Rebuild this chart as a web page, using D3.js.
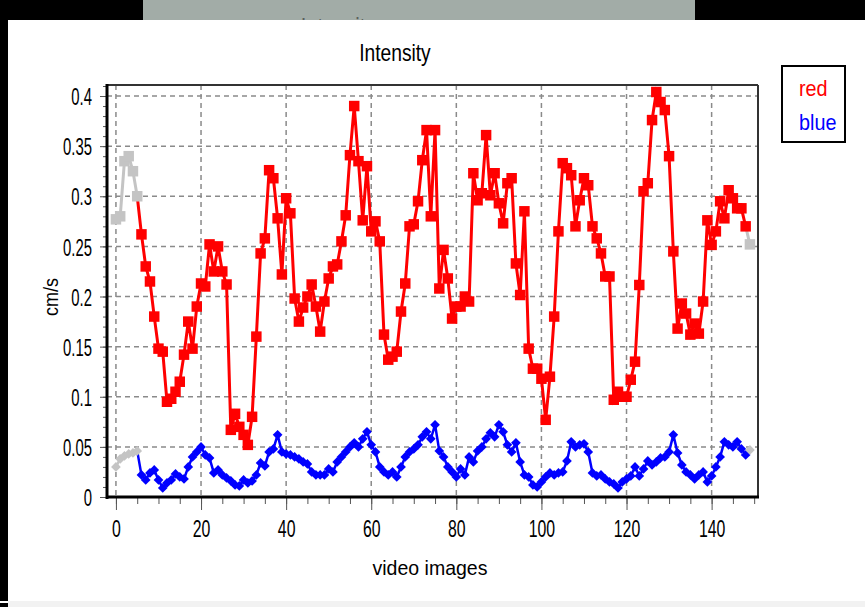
<!DOCTYPE html>
<html>
<head>
<meta charset="utf-8">
<script src="https://cdn.jsdelivr.net/npm/d3@7/dist/d3.min.js"></script>
<style>
  html, body { margin: 0; padding: 0; background: #000; }
  svg { display: block; font-family: "Liberation Sans", Arial, sans-serif; }
</style>
</head>
<body>
<div id="chart"></div>
<script>
// frames 0-5 and 149 are shown grey, frames 6-148 in colour
var redHead = [0.277, 0.28, 0.335, 0.34, 0.325, 0.30];
var redMain = [
  0.262, 0.23, 0.215, 0.18, 0.148, 0.145, 0.095, 0.098, 0.105, 0.115,
  0.142, 0.175, 0.148, 0.19, 0.213, 0.21, 0.252, 0.225, 0.25, 0.225,
  0.212, 0.067, 0.083, 0.07, 0.062, 0.052, 0.08, 0.16, 0.243, 0.258,
  0.326, 0.318, 0.278, 0.222, 0.298, 0.283, 0.198, 0.175, 0.189, 0.2,
  0.212, 0.19, 0.165, 0.195, 0.218, 0.23, 0.232, 0.255, 0.281, 0.341,
  0.39, 0.335, 0.276, 0.33, 0.265, 0.275, 0.255, 0.162, 0.137, 0.14,
  0.145, 0.185, 0.213, 0.27, 0.272, 0.295, 0.336, 0.366, 0.28, 0.366,
  0.208, 0.2465, 0.218, 0.178, 0.19, 0.19, 0.2, 0.195, 0.323, 0.296,
  0.303, 0.361, 0.301, 0.323, 0.293, 0.273, 0.313, 0.318, 0.233, 0.2015,
  0.285, 0.148, 0.128, 0.128, 0.118, 0.077, 0.12, 0.18, 0.265, 0.333,
  0.328, 0.321, 0.27, 0.296, 0.318, 0.311, 0.27, 0.258, 0.243, 0.22,
  0.22, 0.097, 0.105, 0.1, 0.1, 0.117, 0.135, 0.2115, 0.305, 0.313,
  0.376, 0.404, 0.394, 0.386, 0.34, 0.245, 0.168, 0.193, 0.183, 0.162,
  0.173, 0.163, 0.195, 0.276, 0.2515, 0.265, 0.295, 0.278, 0.306, 0.298,
  0.288, 0.288, 0.27
];
var redTail = [0.252];

var blueHead = [0.03, 0.038, 0.041, 0.043, 0.044, 0.046];
var blueMain = [
  0.022, 0.017, 0.024, 0.027, 0.017, 0.009, 0.014, 0.017, 0.023, 0.02,
  0.018, 0.03, 0.04, 0.045, 0.05, 0.042, 0.039, 0.024, 0.027, 0.022,
  0.019, 0.016, 0.012, 0.011, 0.017, 0.014, 0.016, 0.022, 0.034, 0.031,
  0.045, 0.048, 0.062, 0.045, 0.043, 0.042, 0.04, 0.038, 0.035, 0.033,
  0.025, 0.022, 0.022, 0.022, 0.028, 0.025, 0.035, 0.04, 0.045, 0.05,
  0.054, 0.05, 0.058, 0.065, 0.052, 0.045, 0.03, 0.025, 0.022, 0.025,
  0.02, 0.03, 0.04, 0.045, 0.048, 0.052, 0.06, 0.065, 0.058, 0.072,
  0.046, 0.04, 0.03, 0.025, 0.02, 0.028, 0.022, 0.04, 0.035, 0.046,
  0.05, 0.058, 0.064, 0.06, 0.072, 0.065, 0.052, 0.045, 0.054, 0.035,
  0.022, 0.02, 0.012, 0.01, 0.015, 0.02, 0.024, 0.022, 0.024, 0.025,
  0.036, 0.055, 0.05, 0.052, 0.053, 0.045, 0.024, 0.021, 0.022, 0.018,
  0.015, 0.013, 0.009, 0.015, 0.018, 0.021, 0.03, 0.021, 0.028, 0.036,
  0.032, 0.035, 0.039, 0.04, 0.045, 0.062, 0.044, 0.032, 0.025, 0.022,
  0.018, 0.022, 0.025, 0.015, 0.021, 0.03, 0.04, 0.055, 0.052, 0.05,
  0.055, 0.048, 0.042
];
var blueTail = [0.047];

var xTicks = [0, 20, 40, 60, 80, 100, 120, 140];
var yTicks = [0, 0.05, 0.1, 0.15, 0.2, 0.25, 0.3, 0.35, 0.4];
var yTickLabels = ["0", "0.05", "0.1", "0.15", "0.2", "0.25", "0.3", "0.35", "0.4"];
var legendNames = ["red", "blue"];

var W = 865, H = 607;
var plotL = 107, plotR = 758, plotT = 85, plotB = 497;

var svg = d3.select("#chart").append("svg")
    .attr("width", W).attr("height", H);

// screen-capture surround
svg.append("rect").attr("width", W).attr("height", H).attr("fill", "#000");
svg.append("rect").attr("x", 8).attr("y", 20).attr("width", W - 8).attr("height", 581).attr("fill", "#fff");
svg.append("rect").attr("x", 8).attr("y", 601).attr("width", W - 8).attr("height", 6).attr("fill", "#f2f2f2");
svg.append("rect").attr("x", 0).attr("y", 601).attr("width", 8).attr("height", 2).attr("fill", "#fff");

svg.append("clipPath").attr("id", "barclip")
  .append("rect").attr("x", 143).attr("y", 0).attr("width", 552).attr("height", 20);
svg.append("rect").attr("x", 143).attr("y", 0).attr("width", 552).attr("height", 20).attr("fill", "#a2aca7");
svg.append("g").attr("clip-path", "url(#barclip)")
  .append("text")
    .attr("x", 338 / 0.8).attr("y", 36)
    .attr("transform", "scale(0.8,1)")
    .attr("text-anchor", "middle")
    .attr("font-size", 25)
    .attr("fill", "#59605d")
    .text("Intensity");

function squeeze(sel, k) {
  sel.each(function () {
    var t = d3.select(this);
    var x = +t.attr("x") || 0;
    t.attr("x", x / k).attr("transform", "scale(" + k + ",1)");
  });
}

var x = d3.scaleLinear().domain([-2.1, 150.9]).range([plotL, plotR]);
var y = d3.scaleLinear().domain([0, 0.411]).range([plotB, plotT]);

// grid
var grid = svg.append("g")
    .attr("stroke", "#8a8a8a").attr("stroke-width", 1.5).attr("stroke-dasharray", "5,4");
grid.selectAll(".gx").data(xTicks).enter().append("line")
    .attr("x1", function (d) { return x(d); }).attr("x2", function (d) { return x(d); })
    .attr("y1", plotT).attr("y2", plotB);
grid.selectAll(".gy").data(yTicks.slice(1)).enter().append("line")
    .attr("x1", plotL).attr("x2", plotR)
    .attr("y1", function (d) { return y(d); }).attr("y2", function (d) { return y(d); });

// frame: top and right thin, left and bottom heavy
svg.append("line").attr("x1", plotL).attr("x2", plotR).attr("y1", plotT).attr("y2", plotT)
    .attr("stroke", "#333").attr("stroke-width", 2);
svg.append("line").attr("x1", plotR).attr("x2", plotR).attr("y1", plotT).attr("y2", plotB)
    .attr("stroke", "#333").attr("stroke-width", 2);

// minor ticks
svg.append("g").attr("transform", "translate(" + plotL + ",0)")
    .call(d3.axisLeft(y).tickValues(d3.range(0, 0.411, 0.01)).tickSize(4).tickFormat(""))
    .call(function (g) { g.select(".domain").remove(); g.selectAll("line").attr("stroke", "#555"); });
svg.append("g").attr("transform", "translate(0," + plotB + ")")
    .call(d3.axisBottom(x).tickValues(d3.range(0, 151, 5)).tickSize(7).tickFormat(""))
    .call(function (g) { g.select(".domain").remove(); g.selectAll("line").attr("stroke", "#555"); });

// major ticks + labels
var yAxis = svg.append("g").attr("transform", "translate(" + plotL + ",0)")
    .call(d3.axisLeft(y).tickValues(yTicks).tickSize(7).tickPadding(8)
      .tickFormat(function (d, i) { return yTickLabels[i]; }));
yAxis.select(".domain").remove();
yAxis.selectAll("line").attr("stroke", "#555");
yAxis.selectAll("text").attr("font-size", 24).attr("fill", "#000").attr("dy", "0.36em")
    .attr("font-family", "'Liberation Sans', Arial, sans-serif");
squeeze(yAxis.selectAll("text"), 0.62);

var xAxis = svg.append("g").attr("transform", "translate(0," + plotB + ")")
    .call(d3.axisBottom(x).tickValues(xTicks).tickSize(13).tickPadding(10));
xAxis.select(".domain").remove();
xAxis.selectAll("line").attr("stroke", "#555");
xAxis.selectAll("text").attr("font-size", 24).attr("fill", "#000")
    .attr("font-family", "'Liberation Sans', Arial, sans-serif");
squeeze(xAxis.selectAll("text"), 0.66);

svg.append("line").attr("x1", plotL).attr("x2", plotL).attr("y1", plotT - 1).attr("y2", plotB + 2)
    .attr("stroke", "#000").attr("stroke-width", 3);
svg.append("line").attr("x1", plotL).attr("x2", plotR + 1).attr("y1", plotB).attr("y2", plotB)
    .attr("stroke", "#000").attr("stroke-width", 3);

// series
function pts(head, main, tail) {
  var h = head.map(function (v, i) { return [i, v]; });
  var m = main.map(function (v, i) { return [head.length + i, v]; });
  var t = tail.map(function (v, i) { return [head.length + main.length + i, v]; });
  return { head: h, main: m, tail: t };
}
var red = pts(redHead, redMain, redTail);
var blue = pts(blueHead, blueMain, blueTail);

var line = d3.line().x(function (d) { return x(d[0]); }).y(function (d) { return y(d[1]); });
var grey = "#c4c4c4";

function drawSeries(s, colour, width, symbol) {
  var g = svg.append("g");
  g.append("path").datum(s.head).attr("d", line).attr("fill", "none")
      .attr("stroke", grey).attr("stroke-width", width);
  g.append("path").datum([s.head[s.head.length - 1]].concat(s.main))
      .attr("d", line).attr("fill", "none").attr("stroke", colour).attr("stroke-width", width);
  g.append("path").datum([s.main[s.main.length - 1]].concat(s.tail))
      .attr("d", line).attr("fill", "none").attr("stroke", grey).attr("stroke-width", width);
  var all = s.head.map(function (d) { return { p: d, c: grey }; })
      .concat(s.main.map(function (d) { return { p: d, c: colour }; }))
      .concat(s.tail.map(function (d) { return { p: d, c: grey }; }));
  g.selectAll("path.mk").data(all).enter().append("path")
      .attr("class", "mk")
      .attr("d", symbol)
      .attr("transform", function (d) { return "translate(" + x(d.p[0]) + "," + y(d.p[1]) + ")"; })
      .attr("fill", function (d) { return d.c; });
}
drawSeries(blue, "#0000ff", 2.5, d3.symbol(d3.symbolDiamond2, 60)());
drawSeries(red, "#ff0000", 3, d3.symbol(d3.symbolSquare, 110)());

// titles
svg.append("text").attr("x", 395 / 0.8).attr("y", 61).attr("transform", "scale(0.8,1)")
    .attr("text-anchor", "middle").attr("font-size", 24).attr("fill", "#000").text("Intensity");
svg.append("text").attr("x", 430 / 0.93).attr("y", 575).attr("transform", "scale(0.93,1)")
    .attr("text-anchor", "middle").attr("font-size", 21).attr("fill", "#000").text("video images");
svg.append("text").attr("transform", "translate(58,297) rotate(-90) scale(0.86,1)")
    .attr("text-anchor", "middle").attr("font-size", 21).attr("fill", "#000").text("cm/s");

// legend
svg.append("rect").attr("x", 782).attr("y", 66).attr("width", 63).attr("height", 76)
    .attr("fill", "#fff").attr("stroke", "#000").attr("stroke-width", 2);
var legendColours = ["#ff0000", "#0000ff"];
svg.selectAll(".lg").data(legendNames).enter().append("text")
    .attr("x", 799 / 0.9)
    .attr("y", function (d, i) { return 96 + i * 34; })
    .attr("transform", "scale(0.9,1)")
    .attr("font-size", 22)
    .attr("fill", function (d, i) { return legendColours[i]; })
    .text(function (d) { return d; });
</script>
</body>
</html>
